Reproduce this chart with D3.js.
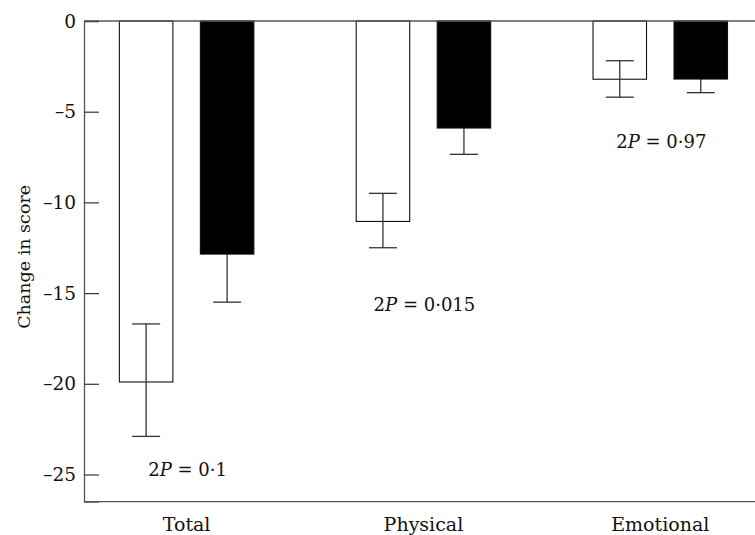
<!DOCTYPE html>
<html>
<head>
<meta charset="utf-8">
<script src="https://cdn.jsdelivr.net/npm/d3@7/dist/d3.min.js"></script>
<style>
  body { margin: 0; background: #fff; }
  svg { display: block; }
  text { font-family: "DejaVu Serif", serif; fill: #111; }
</style>
</head>
<body>
<svg id="chart" width="755" height="535"></svg>
<script>
// ---- data ----
const categories = ["Total", "Physical", "Emotional"];
const whiteMeans = [-19.9, -11.05, -3.21];
const whiteUpper = [-16.7, -9.5, -2.19];
const whiteLower = [-22.9, -12.5, -4.2];
const blackMeans = [-12.85, -5.9, -3.2];
const blackUpper = [-10.2, -4.45, -2.45];
const blackLower = [-15.5, -7.35, -3.95];
const pLabels = ["0·1", "0·015", "0·97"];
const pLabelPos = [-25.1, -16.0, -6.98];
const yTicks = [0, -5, -10, -15, -20, -25];

// ---- scales ----
const svg = d3.select("#chart");
const x = d3.scaleLinear().domain([0.5667, 3.4]).range([84, 755]);
const y = d3.scaleLinear().domain([0, -26.5]).range([21, 501.7]);
const barW = 53.5, offset = 40.5, capHalf = 14;
const idx = categories.map((c, i) => i);

// ---- frame lines ----
const axisColor = "#555";
svg.append("line").attr("x1", x(0.5667)).attr("x2", x(3.4))
  .attr("y1", y(-26.5)).attr("y2", y(-26.5)).attr("stroke", axisColor).attr("stroke-width", 1.3);

// y axis with inward ticks
const yAxis = d3.axisRight(y).tickValues(yTicks).tickSize(15).tickFormat("");
const gy = svg.append("g").attr("transform", `translate(${x(0.5667)},0)`).call(yAxis);
gy.select(".domain").attr("stroke", axisColor).attr("stroke-width", 1.3);
gy.selectAll(".tick line").attr("stroke", "#333").attr("stroke-width", 1.2);

// tick labels
svg.selectAll(".ylab").data(yTicks).enter().append("text")
  .attr("class", "ylab")
  .attr("x", 76).attr("y", d => y(d)).attr("dy", "0.36em")
  .attr("text-anchor", "end").style("font-size", "18.5px")
  .text(d => d === 0 ? "0" : "\u2013" + Math.abs(d));

// y title
svg.append("text")
  .attr("transform", `translate(30,${y(-13.0)}) rotate(-90)`)
  .attr("text-anchor", "middle").style("font-size", "17.5px")
  .text("Change in score");

// ---- error bars ----
function errBars(upper, lower, sign, cls) {
  const g = svg.selectAll("." + cls).data(idx).enter().append("g").attr("class", cls);
  const cx = i => x(i + 1) + sign * offset;
  g.append("line").attr("x1", cx).attr("x2", cx)
    .attr("y1", i => y(upper[i])).attr("y2", i => y(lower[i]))
    .attr("stroke", "#333").attr("stroke-width", 1.3);
  g.append("line").attr("x1", i => cx(i) - capHalf).attr("x2", i => cx(i) + capHalf)
    .attr("y1", i => y(lower[i])).attr("y2", i => y(lower[i]))
    .attr("stroke", "#333").attr("stroke-width", 1.3);
  g.append("line").attr("x1", i => cx(i) - capHalf).attr("x2", i => cx(i) + capHalf)
    .attr("y1", i => y(upper[i])).attr("y2", i => y(upper[i]))
    .attr("stroke", "#333").attr("stroke-width", 1.3);
}
// black-bar error bars go underneath their bars (upper half hidden)
errBars(blackUpper, blackLower, 1, "berr");

// ---- bars ----
svg.selectAll(".wbar").data(idx).enter().append("rect")
  .attr("class", "wbar")
  .attr("x", i => x(i + 1) - offset - barW / 2)
  .attr("y", y(0))
  .attr("width", barW)
  .attr("height", i => y(whiteMeans[i]) - y(0))
  .attr("fill", "#fff").attr("stroke", "#111").attr("stroke-width", 1.1);

svg.selectAll(".bbar").data(idx).enter().append("rect")
  .attr("class", "bbar")
  .attr("x", i => x(i + 1) + offset - barW / 2)
  .attr("y", y(0))
  .attr("width", barW)
  .attr("height", i => y(blackMeans[i]) - y(0))
  .attr("fill", "#000").attr("stroke", "#111").attr("stroke-width", 1.1);

errBars(whiteUpper, whiteLower, -1, "werr");

// zero line on top
svg.append("line").attr("x1", x(0.5667)).attr("x2", x(3.4))
  .attr("y1", y(0)).attr("y2", y(0)).attr("stroke", axisColor).attr("stroke-width", 1.3);

// ---- P annotations ----
const ann = svg.selectAll(".ann").data(idx).enter().append("text")
  .attr("class", "ann")
  .attr("x", i => x(i + 1) + 1).attr("y", i => y(pLabelPos[i]))
  .attr("text-anchor", "middle").style("font-size", "18px");
ann.append("tspan").text("2");
ann.append("tspan").style("font-style", "italic").text("P");
ann.append("tspan").text(i => " = " + pLabels[i]);

// ---- category labels ----
svg.selectAll(".cat").data(idx).enter().append("text")
  .attr("class", "cat")
  .attr("x", i => x(i + 1)).attr("y", 531)
  .attr("text-anchor", "middle").style("font-size", "19px")
  .text(i => categories[i]);
</script>
</body>
</html>
